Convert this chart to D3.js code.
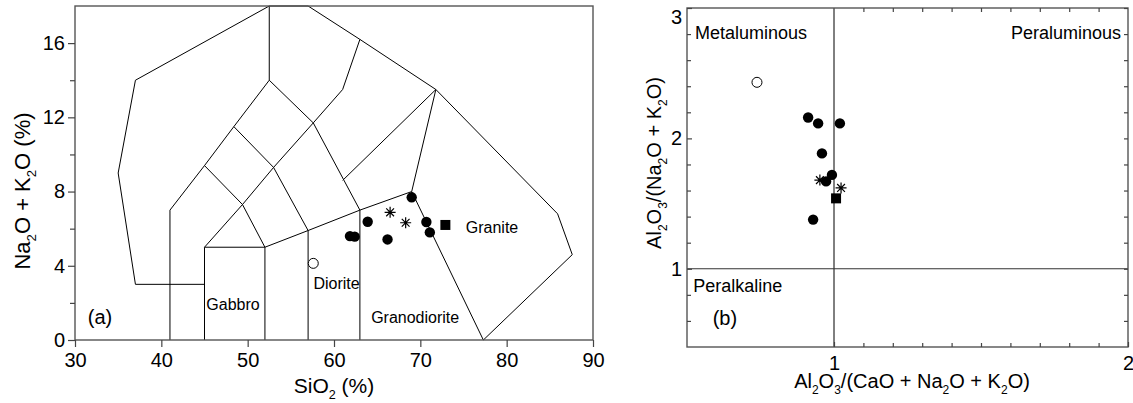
<!DOCTYPE html>
<html>
<head>
<meta charset="utf-8">
<script src="https://cdn.jsdelivr.net/npm/d3@7"></script>
<style>
  body { margin: 0; background: #fff; }
  text { font-family: "Liberation Sans", Arial, sans-serif; fill: #000; }
</style>
</head>
<body>
<div id="chart"></div>
<script>
// ---- (a) TAS diagram data ----
const tasXTicks = [30, 40, 50, 60, 70, 80, 90];
const tasYTicks = [0, 4, 8, 12, 16];
const tasYMinor = [2, 6, 10, 14];
// field boundaries (SiO2, Na2O+K2O)
const tasLines = [
  [[37, 3], [35, 9], [37, 14], [52.5, 18], [57, 18], [63, 16.2], [71.8, 13.5], [85.9, 6.8], [87.6, 4.6], [77.3, 0]],
  [[37, 3], [45, 3]],
  [[41, 0], [41, 7], [45, 9.4], [48.4, 11.5], [52.5, 14], [52.5, 18]],
  [[45, 0], [45, 5], [52, 5], [52, 0]],
  [[45, 5], [49.4, 7.3], [53, 9.3], [57.6, 11.7], [61, 13.5], [63, 16.2]],
  [[45, 9.4], [49.4, 7.3], [52, 5]],
  [[48.4, 11.5], [53, 9.3], [57, 5.9]],
  [[52.5, 14], [57.6, 11.7], [63, 7]],
  [[52, 5], [57, 5.9], [63, 7], [69, 8], [77.3, 0]],
  [[57, 0], [57, 5.9]],
  [[63, 0], [63, 7]],
  [[61, 8.6], [71.8, 13.5]],
  [[69, 8], [71.8, 13.5]]
];
const tasFields = [
  {name: "Gabbro", x: 48.3, y: 1.94},
  {name: "Diorite", x: 60.3, y: 3.07},
  {name: "Granodiorite", x: 69.4, y: 1.24},
  {name: "Granite", x: 78.3, y: 6.09}
];
const tasCircles = [[63.9, 6.37], [61.85, 5.6], [62.4, 5.57], [66.2, 5.42], [70.7, 6.36], [71.1, 5.8], [69.0, 7.69]];
const tasStars = [[66.5, 6.88], [68.3, 6.32]];
const tasSquares = [[72.9, 6.2]];
const tasOpen = [[57.6, 4.13]];

// ---- (b) A/CNK vs A/NK data ----
const acnkXTicks = [1, 2];
const acnkYTicks = [1, 2, 3];
const acnkXMinor = [1.1, 1.2, 1.3, 1.4, 1.5, 1.6, 1.7, 1.8, 1.9];
const acnkYMinor = [0.6, 0.8, 1.2, 1.4, 1.6, 1.8, 2.2, 2.4, 2.6, 2.8];
const acnkCircles = [[0.912, 2.16], [0.946, 2.115], [1.02, 2.115], [0.959, 1.885], [0.993, 1.72], [0.973, 1.67], [0.929, 1.377]];
const acnkStars = [[0.952, 1.68], [1.024, 1.62]];
const acnkSquares = [[1.007, 1.54]];
const acnkOpen = [[0.738, 2.43]];

const W = 1133, H = 403;
const svg = d3.select("#chart").append("svg")
    .attr("width", W)
    .attr("height", H);
svg.append("rect").attr("width", W).attr("height", H).attr("fill", "#fff");

// writes "Na_2O" style strings with subscripts
function chem(text, str, fs) {
  let down = false;
  str.split(/(_\d)/).forEach(p => {
    if (!p) return;
    if (p[0] === "_") {
      text.append("tspan").attr("dy", fs * 0.28).attr("font-size", fs * 0.6).text(p.slice(1));
      down = true;
    } else {
      text.append("tspan").attr("dy", down ? -fs * 0.28 : 0).text(p);
      down = false;
    }
  });
}

function starPath(r) {
  const p = d3.path();
  [0, 45, 90, 135].forEach(a => {
    const t = a * Math.PI / 180;
    p.moveTo(-r * Math.cos(t), -r * Math.sin(t));
    p.lineTo(r * Math.cos(t), r * Math.sin(t));
  });
  return p.toString();
}

function drawMarkers(g, x, y, circles, stars, squares, open) {
  g.selectAll(".dot").data(circles).enter().append("circle")
      .attr("cx", d => x(d[0])).attr("cy", d => y(d[1]))
      .attr("r", 5.2).attr("fill", "#000");
  g.selectAll(".open").data(open).enter().append("circle")
      .attr("cx", d => x(d[0])).attr("cy", d => y(d[1]))
      .attr("r", 5).attr("fill", "#fff").attr("stroke", "#000").attr("stroke-width", 1);
  g.selectAll(".sq").data(squares).enter().append("rect")
      .attr("x", d => x(d[0]) - 5).attr("y", d => y(d[1]) - 5)
      .attr("width", 10).attr("height", 10).attr("fill", "#000");
  g.selectAll(".star").data(stars).enter().append("path")
      .attr("transform", d => `translate(${x(d[0])},${y(d[1])})`)
      .attr("d", starPath(5.5))
      .attr("stroke", "#000").attr("stroke-width", 1.2).attr("fill", "none");
}

function styleAxis(g, fs) {
  g.select(".domain").remove();
  g.selectAll("line").attr("stroke", "#444").attr("stroke-width", 1.2);
  g.selectAll("text").attr("font-size", fs).attr("fill", "#000")
      .style("font-family", '"Liberation Sans", Arial, sans-serif');
}

// ================= (a) =================
const a = {left: 75, right: 593, top: 6, bottom: 340};
const xA = d3.scaleLinear().domain([30, 90]).range([a.left, a.right]);
const yA = d3.scaleLinear().domain([0, 18]).range([a.bottom, a.top]);
const gA = svg.append("g");

const lineA = d3.line().x(d => xA(d[0])).y(d => yA(d[1]));
gA.selectAll(".field").data(tasLines).enter().append("path")
    .attr("d", lineA).attr("fill", "none").attr("stroke", "#000").attr("stroke-width", 1);

gA.append("rect")
    .attr("x", a.left).attr("y", a.top)
    .attr("width", a.right - a.left).attr("height", a.bottom - a.top)
    .attr("fill", "none").attr("stroke", "#555").attr("stroke-width", 1.4);

gA.append("g").attr("transform", `translate(0,${a.bottom})`)
    .call(d3.axisBottom(xA).tickValues(tasXTicks).tickSize(7).tickPadding(6))
    .call(g => styleAxis(g, 20));
gA.append("g").attr("transform", `translate(${a.left},0)`)
    .call(d3.axisLeft(yA).tickValues(tasYTicks).tickSize(7).tickPadding(3))
    .call(g => styleAxis(g, 20));
gA.append("g").attr("transform", `translate(${a.left},0)`)
    .call(d3.axisLeft(yA).tickValues(tasYMinor).tickSize(5).tickFormat(""))
    .call(g => styleAxis(g, 20));

gA.selectAll(".lab").data(tasFields).enter().append("text")
    .attr("x", d => xA(d.x)).attr("y", d => yA(d.y) + 6)
    .attr("text-anchor", "middle").attr("font-size", 16)
    .text(d => d.name);
gA.append("text").attr("x", xA(32.9)).attr("y", yA(1.24) + 7)
    .attr("text-anchor", "middle").attr("font-size", 20).text("(a)");

drawMarkers(gA, xA, yA, tasCircles, tasStars, tasSquares, tasOpen);

const tA = gA.append("text").attr("x", 334).attr("y", 393)
    .attr("text-anchor", "middle").attr("font-size", 21);
chem(tA, "SiO_2 (%)", 21);
const tAy = gA.append("text").attr("transform", "translate(30,191) rotate(-90)")
    .attr("text-anchor", "middle").attr("font-size", 22);
chem(tAy, "Na_2O + K_2O (%)", 22);

// ================= (b) =================
const b = {left: 687, right: 1128, top: 8, bottom: 347};
const xB = d3.scaleLinear().domain([0.5, 2]).range([b.left, b.right]);
const yB = d3.scaleLinear().domain([0.4, 3]).range([b.bottom, b.top]);
const gB = svg.append("g");

gB.append("line").attr("x1", xB(1)).attr("x2", xB(1)).attr("y1", b.top).attr("y2", b.bottom)
    .attr("stroke", "#000").attr("stroke-width", 1);
gB.append("line").attr("x1", b.left).attr("x2", b.right).attr("y1", yB(1)).attr("y2", yB(1))
    .attr("stroke", "#333").attr("stroke-width", 1.2);

gB.append("rect")
    .attr("x", b.left).attr("y", b.top)
    .attr("width", b.right - b.left).attr("height", b.bottom - b.top)
    .attr("fill", "none").attr("stroke", "#555").attr("stroke-width", 1.4);

gB.append("g").attr("transform", `translate(0,${b.bottom})`)
    .call(d3.axisBottom(xB).tickValues(acnkXTicks).tickSize(-5).tickPadding(9).tickFormat(d3.format("d")))
    .call(g => styleAxis(g, 20));
gB.append("g").attr("transform", `translate(0,${b.bottom})`)
    .call(d3.axisBottom(xB).tickValues(acnkXMinor).tickSize(-4).tickFormat(""))
    .call(g => styleAxis(g, 20));
gB.append("g").attr("transform", `translate(0,${b.top})`)
    .call(d3.axisTop(xB).tickValues(acnkXMinor).tickSize(-4).tickFormat(""))
    .call(g => styleAxis(g, 20));
gB.append("g").attr("transform", `translate(${b.left},0)`)
    .call(d3.axisLeft(yB).tickValues(acnkYTicks).tickSize(-5).tickPadding(5).tickFormat(d3.format("d")))
    .call(g => styleAxis(g, 20))
    .call(g => g.selectAll(".tick").filter(d => d === 3).select("text").attr("dy", "0.75em"));
gB.append("g").attr("transform", `translate(${b.left},0)`)
    .call(d3.axisLeft(yB).tickValues(acnkYMinor).tickSize(-4).tickFormat(""))
    .call(g => styleAxis(g, 20));
gB.append("g").attr("transform", `translate(${b.right},0)`)
    .call(d3.axisRight(yB).tickValues(acnkYMinor.concat(acnkYTicks)).tickSize(-4).tickFormat(""))
    .call(g => styleAxis(g, 20));

gB.append("text").attr("x", xB(0.527)).attr("y", yB(2.81) + 6).attr("font-size", 18).text("Metaluminous");
gB.append("text").attr("x", xB(1.976)).attr("y", yB(2.81) + 6).attr("font-size", 18)
    .attr("text-anchor", "end").text("Peraluminous");
gB.append("text").attr("x", xB(0.521)).attr("y", yB(0.87) + 6).attr("font-size", 18).text("Peralkaline");
gB.append("text").attr("x", xB(0.629)).attr("y", yB(0.623) + 7).attr("font-size", 20)
    .attr("text-anchor", "middle").text("(b)");

drawMarkers(gB, xB, yB, acnkCircles, acnkStars, acnkSquares, acnkOpen);

const tB = gB.append("text").attr("x", 912).attr("y", 388)
    .attr("text-anchor", "middle").attr("font-size", 20);
chem(tB, "Al_2O_3/(CaO + Na_2O + K_2O)", 20);
const tBy = gB.append("text").attr("transform", "translate(661,163) rotate(-90)")
    .attr("text-anchor", "middle").attr("font-size", 20);
chem(tBy, "Al_2O_3/(Na_2O + K_2O)", 20);
</script>
</body>
</html>
